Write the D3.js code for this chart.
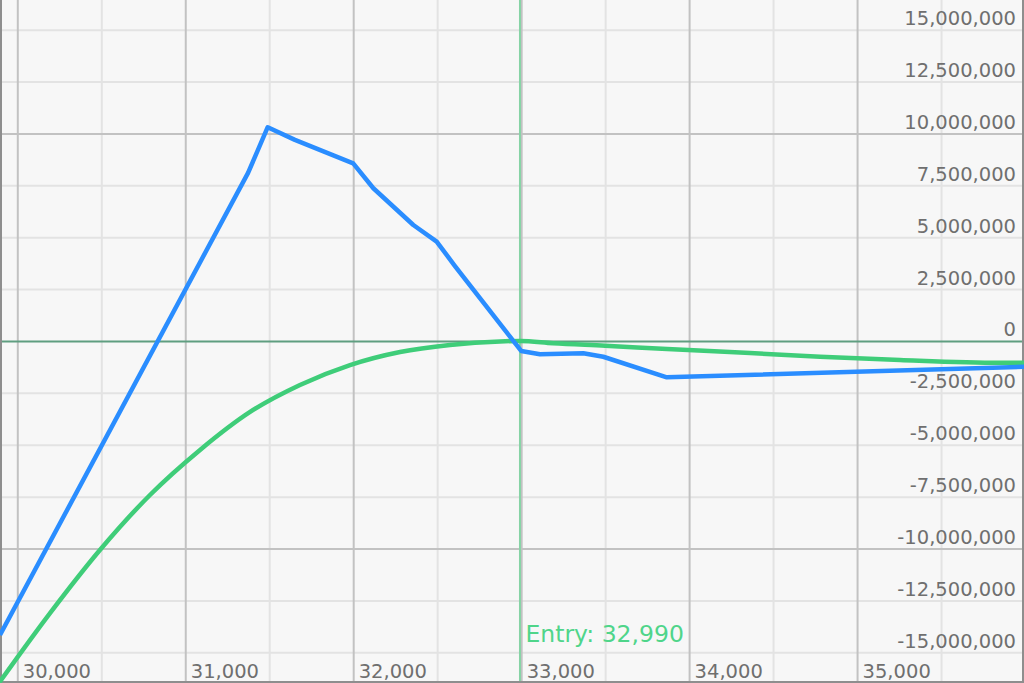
<!DOCTYPE html>
<html>
<head>
<meta charset="utf-8">
<script src="https://cdn.jsdelivr.net/npm/d3@7"></script>
<style>
  html, body { margin: 0; padding: 0; background: #f7f7f7; }
  svg { display: block; }
  .lbl text { font-family: "DejaVu Sans", Verdana, sans-serif; font-size: 19.5px; fill: #6f6f6f; }
  .domain { display: none; }
</style>
</head>
<body>
<svg id="chart" width="1024" height="683"></svg>
<script>
// ---- data ----
const xMajorTicks = [30000, 31000, 32000, 33000, 34000, 35000];
const xMinorTicks = [29500, 30500, 31500, 32500, 33500, 34500, 35500];
const yMinorTicks = [15e6, 12.5e6, 7.5e6, 5e6, 2.5e6, -2.5e6, -5e6, -7.5e6, -12.5e6, -15e6];
const yMajorTicks = [10e6, -10e6];
const yLabelTicks = [15e6, 12.5e6, 10e6, 7.5e6, 5e6, 2.5e6, 0, -2.5e6, -5e6, -7.5e6, -10e6, -12.5e6, -15e6];
const entryPrice = 32990;
const entryLabel = "Entry: 32,990";

// blue series (price, P&L)
const bluePrice = [29897, 31374, 31491, 31653, 32000, 32120, 32358, 32497, 32606, 33000, 33112, 33370, 33489, 33867, 35994];
const bluePnl   = [-14.17e6, 8.10e6, 10.30e6, 9.69e6, 8.56e6, 7.36e6, 5.59e6, 4.79e6, 3.61e6, -0.48e6, -0.64e6, -0.59e6, -0.76e6, -1.75e6, -1.24e6];

// green series (price, P&L)
const greenPrice = [29880, 30195, 30492, 30790, 31088, 31386, 31683, 31981, 32279, 32576, 32874, 32993, 33190, 33500, 33869, 34363, 34780, 35256, 35851, 35994];
const greenPnl   = [-16.6e6, -13.11e6, -10.07e6, -7.42e6, -5.25e6, -3.42e6, -2.12e6, -1.16e6, -0.53e6, -0.19e6, -0.02e6, 0, -0.11e6, -0.23e6, -0.39e6, -0.58e6, -0.76e6, -0.92e6, -1.05e6, -1.05e6];

// ---- chart ----
const W = 1024, H = 683;
const svg = d3.select("#chart");
const x = d3.scaleLinear().domain([29897, 35994]).range([0, W]);
const y = d3.scaleLinear().domain([16.43e6, -16.48e6]).range([0, H]);
const fmt = d => d3.format(",")(d).replace("\u2212", "-");

svg.append("rect").attr("width", W).attr("height", H).attr("fill", "#f7f7f7");

function grid(axis, transform, color, width) {
  const g = svg.append("g").attr("transform", transform).call(axis);
  g.selectAll(".tick line").attr("stroke", color).attr("stroke-width", width);
  g.select(".domain").remove();
  g.selectAll("text").remove();
  return g;
}
// minor grid
grid(d3.axisBottom(x).tickValues(xMinorTicks).tickSize(-H).tickFormat(""), `translate(0,${H})`, "#e3e3e3", 2);
grid(d3.axisLeft(y).tickValues(yMinorTicks).tickSize(-W).tickFormat(""), "translate(0,0)", "#e3e3e3", 2);
// major grid
grid(d3.axisBottom(x).tickValues(xMajorTicks).tickSize(-H).tickFormat(""), `translate(0,${H})`, "#c2c2c2", 2);
grid(d3.axisLeft(y).tickValues(yMajorTicks).tickSize(-W).tickFormat(""), "translate(0,0)", "#c2c2c2", 2);

// zero line
grid(d3.axisLeft(y).tickValues([0]).tickSize(-W).tickFormat(""), "translate(0,0)", "#5f9e80", 2);
// entry line
grid(d3.axisBottom(x).tickValues([entryPrice]).tickSize(-H).tickFormat(""), `translate(0,${H})`, "#86d3a5", 2);

// border
svg.append("path")
  .attr("d", `M1,0 V${H - 1} H${W - 1} V0`)
  .attr("fill", "none").attr("stroke", "#8e8e8e").attr("stroke-width", 2);

// lines
const greenData = greenPrice.map((p, i) => [p, greenPnl[i]]);
const blueData = bluePrice.map((p, i) => [p, bluePnl[i]]);

svg.append("defs").append("clipPath").attr("id", "clip")
  .append("rect").attr("width", W).attr("height", H);

svg.append("path").datum(greenData)
  .attr("clip-path", "url(#clip)")
  .attr("d", d3.line().x(d => x(d[0])).y(d => y(d[1])).curve(d3.curveMonotoneX))
  .attr("fill", "none").attr("stroke", "#3fcd79").attr("stroke-width", 4.5)
  .attr("stroke-linejoin", "round");

svg.append("path").datum(blueData)
  .attr("clip-path", "url(#clip)")
  .attr("d", d3.line().x(d => x(d[0])).y(d => y(d[1])))
  .attr("fill", "none").attr("stroke", "#2a8dff").attr("stroke-width", 4.5)
  .attr("stroke-linejoin", "round");

// x labels
const xl = svg.append("g").attr("class", "lbl")
  .call(d3.axisBottom(x).tickValues(xMajorTicks).tickSize(0).tickFormat(fmt));
xl.select(".domain").remove();
xl.selectAll("text").attr("x", 5).attr("y", 678).attr("dy", 0).attr("text-anchor", "start");

// y labels
const yl = svg.append("g").attr("class", "lbl").attr("transform", "translate(1016,0)")
  .call(d3.axisLeft(y).tickValues(yLabelTicks).tickSize(0).tickPadding(0).tickFormat(fmt));
yl.select(".domain").remove();
yl.selectAll("text").attr("x", 0).attr("y", -5).attr("dy", 0).attr("text-anchor", "end");

// entry label
svg.append("text")
  .attr("x", x(entryPrice) + 6).attr("y", 642)
  .attr("font-family", "DejaVu Sans, Verdana, sans-serif")
  .attr("font-size", "23.5px")
  .attr("fill", "#4fd58a")
  .text(entryLabel);
</script>
</body>
</html>
